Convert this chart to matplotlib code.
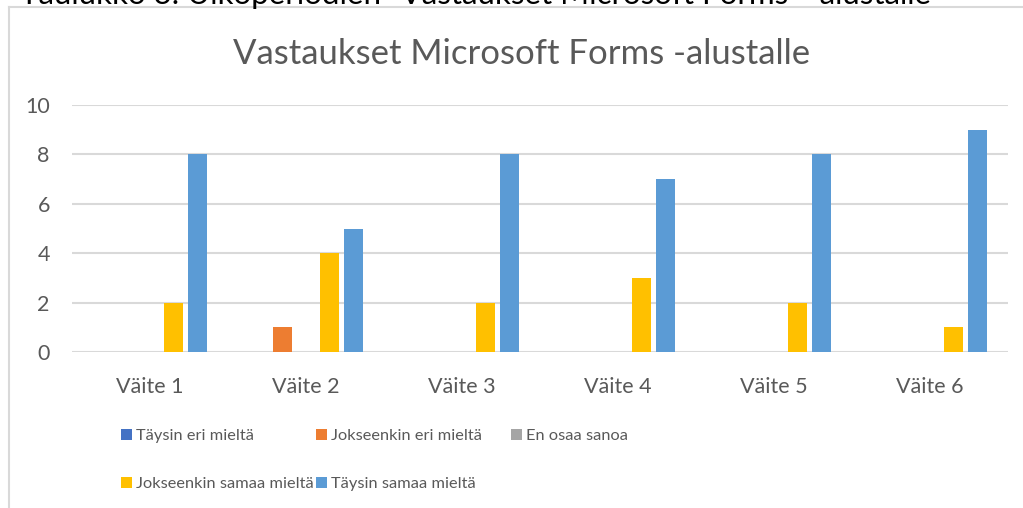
import matplotlib
matplotlib.use("Agg")
import matplotlib.pyplot as plt
import numpy as np
from matplotlib.lines import Line2D

categories = ["Väite 1", "Väite 2", "Väite 3", "Väite 4", "Väite 5", "Väite 6"]
series_names = ["Täysin eri mieltä", "Jokseenkin eri mieltä", "En osaa sanoa",
                "Jokseenkin samaa mieltä", "Täysin samaa mieltä"]
taysin_eri = [0, 0, 0, 0, 0, 0]
jokseenkin_eri = [0, 1, 0, 0, 0, 0]
en_osaa = [0, 0, 0, 0, 0, 0]
jokseenkin_samaa = [2, 4, 2, 3, 2, 1]
taysin_samaa = [8, 5, 8, 7, 8, 9]
series_values = [taysin_eri, jokseenkin_eri, en_osaa, jokseenkin_samaa, taysin_samaa]
colors = ["#4472C4", "#ED7D31", "#A5A5A5", "#FFC000", "#5B9BD5"]
yticks = [0, 2, 4, 6, 8, 10]

plt.rcParams['font.family'] = ['Lato', 'DejaVu Sans']

W, H = 1023, 508
fig = plt.figure(figsize=(W / 100, H / 100), dpi=100)
ax = fig.add_axes([72 / W, 1 - 352 / H, 936 / W, 247 / H])

x = np.arange(len(categories))
slot = 0.151
width = 0.122
handles = []
for i, (name, vals, c) in enumerate(zip(series_names, series_values, colors)):
    b = ax.bar(x + (i - 2) * slot, vals, width=width, color=c, label=name, zorder=3)
    handles.append(b)

ax.set_xlim(-0.5, len(categories) - 0.5)
ax.set_ylim(0, 10)
ax.set_yticks(yticks)
ax.set_xticks(x)
ax.set_xticklabels(categories)
ax.tick_params(axis='both', length=0, labelcolor="#595959", labelsize=15.5)
ax.tick_params(axis='y', pad=16)
ax.tick_params(axis='x', pad=18)
ax.grid(axis='y', color="#D9D9D9", linewidth=1.5, zorder=0)
for s in ax.spines.values():
    s.set_visible(False)

fig.text((233 + 810) / 2 / W, 1 - 64 / H, "Vastaukset Microsoft Forms -alustalle",
         ha='center', va='baseline', fontsize=25, color="#595959")

# outer chart border
fig.add_artist(Line2D([9 / W, 9 / W], [0, 1 - 7 / H], color="#D9D9D9", linewidth=1.5))
fig.add_artist(Line2D([9 / W, 1], [1 - 7 / H, 1 - 7 / H], color="#D9D9D9", linewidth=1.5))

# clipped caption at the very top
fig.text(20 / W, 1 - 4 / H, 'Taulukko 3. Ulkoperiodien "Vastaukset Microsoft Forms" -alustalle',
         va='baseline', ha='left', fontsize=22.5, color="black")

# legend: three fixed-width columns, filled row by row
columns = [[0, 3], [1, 4], [2]]
col_x = [121, 316, 511]
for cx, idxs in zip(col_x, columns):
    leg = fig.legend([handles[i] for i in idxs], [series_names[i] for i in idxs], ncol=1,
                     loc='upper left', bbox_to_anchor=(cx / W, 1 - 429 / H), frameon=False,
                     fontsize=11.8, handlelength=0.65, handleheight=0.65, handletextpad=0.25,
                     labelspacing=2.05, borderpad=0, borderaxespad=0,
                     labelcolor="#595959")

fig.savefig("out.png", dpi=100)
